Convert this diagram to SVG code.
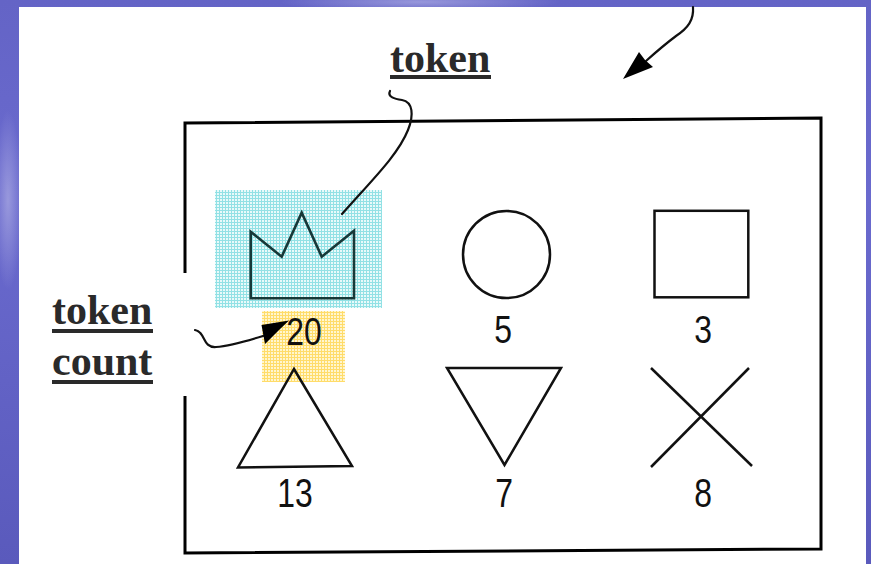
<svg xmlns="http://www.w3.org/2000/svg" width="871" height="564" viewBox="0 0 871 564">
  <defs>
    <linearGradient id="bg" x1="0" y1="0" x2="0" y2="1">
      <stop offset="0" stop-color="#6464c6"/>
      <stop offset="0.35" stop-color="#6a6ace"/>
      <stop offset="1" stop-color="#5a5abc"/>
    </linearGradient>
    <radialGradient id="glowTop" cx="0.5" cy="0.5" r="0.5">
      <stop offset="0" stop-color="#a4a4e0" stop-opacity="0.8"/>
      <stop offset="1" stop-color="#a4a4e0" stop-opacity="0"/>
    </radialGradient>
    <pattern id="cyanGrid" width="3" height="3" patternUnits="userSpaceOnUse">
      <rect width="3" height="3" fill="#e8fafa"/>
      <path d="M0 0.5H3M0.5 0V3" stroke="#92e1e5" stroke-width="1"/>
    </pattern>
    <pattern id="yellowGrid" width="3" height="3" patternUnits="userSpaceOnUse">
      <rect width="3" height="3" fill="#fff6cf"/>
      <path d="M0 0.5H3M0.5 0V3" stroke="#ffdc6a" stroke-width="1"/>
    </pattern>
  </defs>
  <style>
    .label { font-family: "Liberation Serif", "Times New Roman", serif; font-weight: bold; font-size: 42px; fill: #2a2a2a; }
    .uline { fill: #2a2a2a; }
    .count { font-family: "Liberation Sans", Arial, sans-serif; font-size: 38px; fill: #111; text-anchor: middle; }
    .shape { fill: none; stroke: #111; stroke-width: 2.5; stroke-linejoin: miter; }
    .crown { fill: none; stroke: #173838; stroke-width: 2.6; }
    .wire { fill: none; stroke: #111; stroke-width: 2.2; stroke-linecap: round; }
  </style>

  <!-- slide background -->
  <rect x="0" y="0" width="871" height="564" fill="url(#bg)"/>
  <ellipse cx="420" cy="2" rx="140" ry="10" fill="url(#glowTop)"/>
  <ellipse cx="8" cy="200" rx="14" ry="90" fill="url(#glowTop)"/>
  <rect x="19" y="7" width="847" height="557" fill="#ffffff"/>

  <!-- frame -->
  <g id="frame">
    <polygon points="185,123 821,118 821,549 185,553" fill="none" stroke="#000" stroke-width="3"/>
  </g>

  <!-- token count label (white backing hides part of frame edge) -->
  <g id="token-count-label">
    <rect x="40" y="273" width="150" height="123" fill="#ffffff"/>
    <text class="label" x="52" y="324">token</text>
    <rect class="uline" x="52" y="329" width="101" height="4"/>
    <text class="label" x="52" y="375">count</text>
    <rect class="uline" x="52" y="380" width="101" height="4"/>
  </g>

  <!-- token label -->
  <g id="token-label">
    <text class="label" x="390" y="72">token</text>
    <rect class="uline" x="390" y="75" width="101" height="4"/>
  </g>

  <!-- crown node (highlighted token) -->
  <g id="node-crown">
    <rect x="215" y="190" width="167" height="118" fill="url(#cyanGrid)"/>
    <polygon class="crown" points="250.7,231.7 281.7,256.7 301.7,212.7 321.7,256.7 354,230.7 354,298.3 250.7,298.3"/>
    <rect x="262" y="311" width="83" height="71" fill="url(#yellowGrid)"/>
    <text class="count" transform="translate(304,345) scale(0.84,1)">20</text>
  </g>

  <g id="node-circle">
    <circle class="shape" cx="506.5" cy="254.5" r="43.5"/>
    <text class="count" transform="translate(503,343) scale(0.84,1)">5</text>
  </g>

  <g id="node-square">
    <rect class="shape" x="654.5" y="210.8" width="93.8" height="86.5"/>
    <text class="count" transform="translate(703,343) scale(0.84,1)">3</text>
  </g>

  <g id="node-triangle">
    <polygon class="shape" points="294,369 352,466 238,467.5"/>
    <text class="count" transform="translate(295,507) scale(0.84,1.08)">13</text>
  </g>

  <g id="node-inverted-triangle">
    <polygon class="shape" points="447,368 561,368 504.5,465"/>
    <text class="count" transform="translate(504,507) scale(0.84,1.08)">7</text>
  </g>

  <g id="node-cross">
    <line class="shape" x1="651" y1="368" x2="752" y2="466"/>
    <line class="shape" x1="749" y1="368" x2="651" y2="467"/>
    <text class="count" transform="translate(703,507) scale(0.84,1.08)">8</text>
  </g>

  <!-- connectors -->
  <g id="connectors">
    <path class="wire" d="M390,91 C387,97 395,99 402,100 C413,102 414,115 408,130 C398,155 372,180 342,214"/>
    <path class="wire" d="M195,330 C206,332 202,348 216,347 C232,346 250,340 266,335"/>
    <polygon points="261.5,325 289,320.5 279,330 265,344" fill="#000"/>
    <path class="wire" d="M693,7 C694,20 688,28 676,36 C664,45 656,52 646,61"/>
    <polygon points="623,79 639,52 645,60 653,67" fill="#000"/>
  </g>
</svg>
